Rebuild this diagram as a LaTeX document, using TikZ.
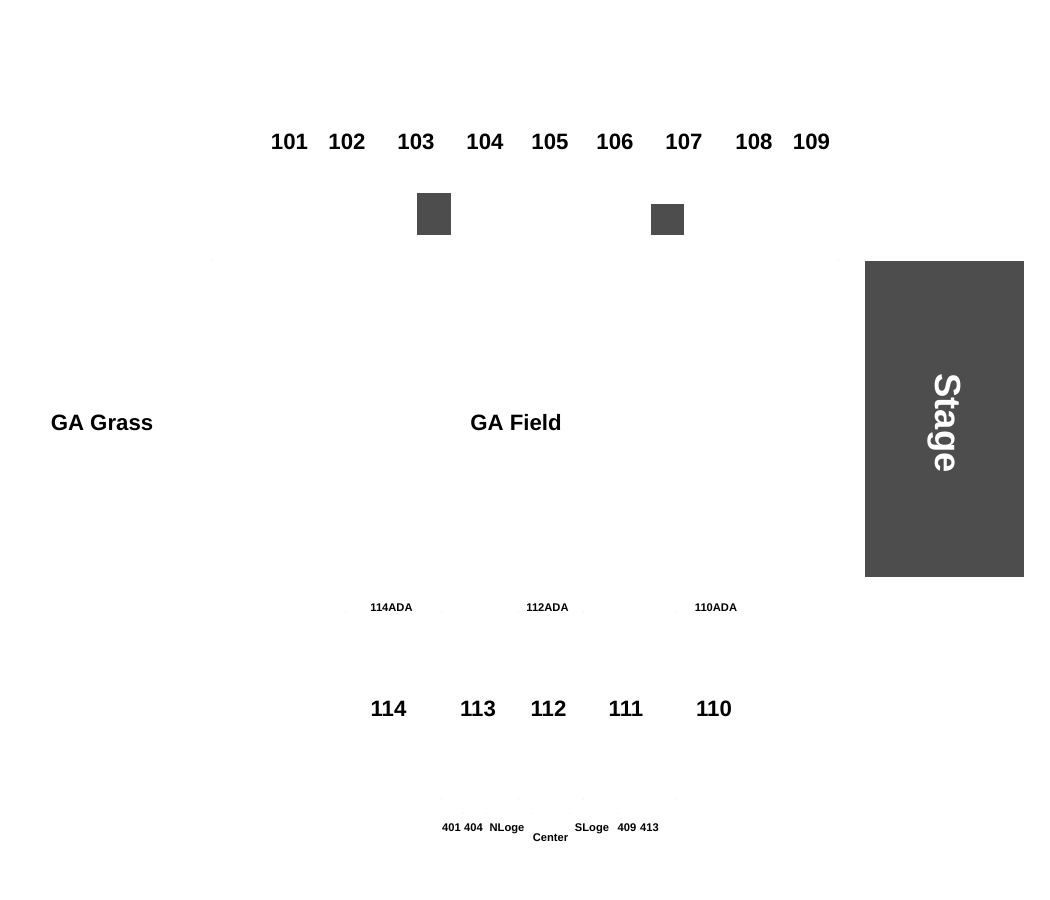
\documentclass[tikz,border=0pt]{standalone}
\usepackage{fontspec}
\setmainfont{Liberation Sans}
\definecolor{darkfill}{HTML}{4D4D4D}
\definecolor{speck}{HTML}{E4E4E4}
\tikzset{
  x=1bp,y=-1bp,
  block/.style={fill=darkfill,draw=none},
  sec/.style={font=\fontsize{22.3}{24}\selectfont\bfseries,text=black,inner sep=0pt,anchor=center},
  ada/.style={font=\fontsize{11.2}{12}\selectfont\bfseries,text=black,inner sep=0pt,anchor=center,text height=8bp,text depth=2bp},
  spk/.style={fill=speck,draw=none}
}
\begin{document}
\begin{tikzpicture}
\useasboundingbox (0,0) rectangle (1050,900);
\fill[block] (417,192.5) rectangle (451.4,235);
\fill[block] (651,203.5) rectangle (684.4,235);
\node[block,minimum width=159.2bp,minimum height=316.3bp,inner sep=0pt,anchor=center] (stage) at (944.6,418.7) {};
\node[font=\fontsize{36.5}{38}\selectfont\bfseries,text=white,rotate=-90,inner sep=0pt,anchor=center] (stagelabel) at (944.3,423) {Stage};
\node[sec] (s101) at (289.5,141.7) {101};
\node[sec] (s102) at (347,141.7) {102};
\node[sec] (s103) at (416,141.7) {103};
\node[sec] (s104) at (485,141.7) {104};
\node[sec] (s105) at (550,141.7) {105};
\node[sec] (s106) at (615,141.7) {106};
\node[sec] (s107) at (684,141.7) {107};
\node[sec] (s108) at (754,141.7) {108};
\node[sec] (s109) at (811.5,141.7) {109};
\node[sec] (grass) at (102,422.6) {GA Grass};
\node[sec] (field) at (516,422.6) {GA Field};
\node[ada] (a114) at (391.5,608) {114ADA};
\node[ada] (a112) at (547.5,608) {112ADA};
\node[ada] (a110) at (716,608) {110ADA};
\node[sec] (s114) at (388.5,708.8) {114};
\node[sec] (s113) at (478,708.8) {113};
\node[sec] (s112) at (548.5,708.8) {112};
\node[sec] (s111) at (626,708.8) {111};
\node[sec] (s110) at (714,708.8) {110};
\node[ada] (l401) at (451.5,828) {401};
\node[ada] (l404) at (473.5,828) {404};
\node[ada] (lnl) at (507,828) {NLoge};
\node[ada] (lc) at (550.5,838.5) {Center};
\node[ada] (lsl) at (592,828) {SLoge};
\node[ada] (l409) at (627,828) {409};
\node[ada] (l413) at (649.5,828) {413};
\foreach \px/\py in {213/260,838/260,
  346/612,442/612,518/612,583/612,675/612,
  346/800,442/799,518/799,583/799,677/799,
  440/813,463/813,486/813,531/813,570/813,618/813,640/813,
  440/840,463/840,486/840,570/840,618/840,640/840}
  \fill[spk] (\px,\py) circle (0.7);
\end{tikzpicture}
\end{document}
